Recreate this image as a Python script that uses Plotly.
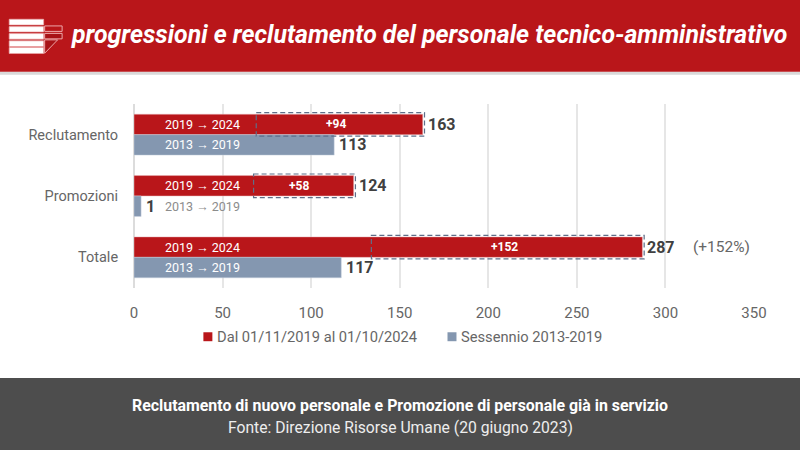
import plotly.graph_objects as go

W, H = 800, 450
FONT = 'Roboto'
RED = '#b9161a'
BLUE = '#8497b0'
DARK = '#404040'
GREY = '#666666'
DASH = '#5f6f89'

# Data
categories = ['Reclutamento', 'Promozioni', 'Totale']
values_2024 = [163, 124, 287]
values_2019 = [113, 4, 117]
labels_2024 = ['163', '124', '287']
labels_2019 = ['113', '1', '117']
increments = [94, 58, 152]
box_starts = [69, 67.5, 134]
period_new = '2019 → 2024'
period_old = '2013 → 2019'
x_ticks = [0, 50, 100, 150, 200, 250, 300, 350]
legend_new = 'Dal 01/11/2019 al 01/10/2024'
legend_old = 'Sessennio 2013-2019'
title = 'progressioni e reclutamento del personale tecnico-amministrativo'
footer_bold = 'Reclutamento di nuovo personale e Promozione di personale già in servizio'
footer_source = 'Fonte: Direzione Risorse Umane (20 giugno 2023)'

# Plot area in pixels
L, R, T, B = 133.5, 754.5, 103.5, 288.5


def px(x):
    return (x - L) / (R - L)


def py(y):
    return (B - y) / (B - T)


def rect(x0, y0, x1, y1, fill, line=None, width=0):
    return dict(type='rect', xref='paper', yref='paper', x0=px(x0), x1=px(x1), y0=py(y0), y1=py(y1),
                fillcolor=fill, line=dict(color=line, width=width), layer='above')


def text(x, y, s, size=15, color=GREY, anchor='left', weight=400, italic=False):
    return dict(xref='paper', yref='paper', x=px(x), y=py(y), text=s, showarrow=False, xanchor=anchor,
                yanchor='middle', font=dict(family=FONT, size=size, color=color, weight=weight,
                                            style='italic' if italic else 'normal'))


fig = go.Figure()
fig.add_trace(go.Bar(y=categories, x=values_2024, name=legend_new, orientation='h',
                     marker=dict(color=RED, line=dict(color='#e8b9ba', width=0.5))))
fig.add_trace(go.Bar(y=categories, x=values_2019, name=legend_old, orientation='h',
                     marker=dict(color=BLUE, line=dict(color='#c5cfdc', width=0.5))))

shapes = []
annotations = []

# Dashed boxes and labels on the bars
for i in range(len(categories)):
    total = values_2024[i]
    delta = increments[i]
    shapes.append(dict(type='rect', xref='x', yref='y', x0=box_starts[i], x1=total + 1,
                       y0=i - 1 / 3 - 0.025, y1=i + 0.025, layer='above',
                       line=dict(color=DASH, width=1.2, dash='5px,3px')))
    annotations.append(dict(x=total - delta / 2, y=i - 1 / 6, xref='x', yref='y', xshift=-3, text=f'+{delta}',
                            showarrow=False, font=dict(family=FONT, size=12, color='white', weight=700)))
    annotations.append(dict(x=39, y=i - 1 / 6, xref='x', yref='y', xshift=-1, text=period_new, showarrow=False,
                            font=dict(family=FONT, size=12.5, color='white')))
    annotations.append(dict(x=39, y=i + 1 / 6, xref='x', yref='y', xshift=-1, text=period_old, showarrow=False,
                            font=dict(family=FONT, size=12.5, color='#8c8c8c' if i == 1 else 'white')))
    annotations.append(dict(x=total, y=i - 1 / 6, xref='x', yref='y', xanchor='left', xshift=3, text=labels_2024[i],
                            showarrow=False, font=dict(family=FONT, size=16, color=DARK, weight=700)))
    annotations.append(dict(x=values_2019[i], y=i + 1 / 6, xref='x', yref='y', xanchor='left', xshift=3,
                            text=labels_2019[i], showarrow=False,
                            font=dict(family=FONT, size=16, color=DARK, weight=700)))

annotations.append(dict(x=287, y=2 - 1 / 6, xref='x', yref='y', xanchor='left', xshift=49, text='(+152%)',
                        showarrow=False, font=dict(family=FONT, size=15.5, color=GREY)))

# Header
shapes.append(rect(-10, 71, W + 10, 74, '#d9d9d9'))
shapes.append(rect(-10, -10, W + 10, 71, RED))
for y0, y1 in [(18.3, 24), (25.7, 31), (32.7, 38.3), (40, 45.7), (46.7, 52.7)]:
    shapes.append(rect(8.5, y0, 43, y1, 'white', '#eda9aa', 0.7))
shapes.append(rect(44, 25, 61.5, 30.5, RED, '#eda9aa', 1))
shapes.append(rect(44, 32.5, 61.5, 38, '#a81216', '#eda9aa', 1))
shapes.append(dict(type='path', xref='paper', yref='paper', layer='above',
                   path=f'M {px(44)} {py(39)} L {px(57)} {py(39)} L {px(44)} {py(52.5)} Z',
                   fillcolor='#a81216', line=dict(color='#eda9aa', width=1)))
annotations.append(text(68, 34, title, size=24.85, color='white', weight=700, italic=True))

# Legend
shapes.append(rect(203, 333, 212, 342, RED))
shapes.append(rect(447.5, 333, 456.5, 342, BLUE))
annotations.append(text(215, 337.5, legend_new, size=14.7))
annotations.append(text(459, 337.5, legend_old, size=14.7))

# Footer
shapes.append(rect(-10, 379, W + 10, H + 10, '#4d4d4d'))
annotations.append(text(400, 407, footer_bold, size=15.9, color='white', anchor='center', weight=700))
annotations.append(text(400, 429, footer_source, size=15.7, color='#eeeeee', anchor='center'))

fig.update_layout(
    width=W, height=H,
    autosize=False,
    margin=dict(l=L, r=W - R, t=T, b=H - B, pad=0),
    paper_bgcolor='white',
    plot_bgcolor='white',
    barmode='group',
    bargap=1 / 3,
    bargroupgap=0,
    showlegend=False,
    shapes=shapes,
    annotations=annotations,
    font=dict(family=FONT, size=15, color=GREY),
    xaxis=dict(range=[0, 350], tickvals=x_ticks, showgrid=True, gridcolor='#e6e6e6', gridwidth=1.5,
               zeroline=True, zerolinecolor='#dcdcdc', zerolinewidth=1.5, ticks='outside', ticklen=11,
               tickcolor='rgba(0,0,0,0)', tickfont=dict(size=15, color=GREY), showline=False),
    yaxis=dict(type='category', categoryorder='array', categoryarray=categories, range=[2.5, -0.5],
               ticks='outside', ticklen=12, tickcolor='rgba(0,0,0,0)', showgrid=False, zeroline=False,
               tickfont=dict(size=14.5, color=GREY), showline=False),
)

# The page has a default body margin that would push the chart off position
fig.write_html('out.html', config={'displayModeBar': False},
               post_script="document.body.style.margin='0';document.body.style.overflow='hidden';")
